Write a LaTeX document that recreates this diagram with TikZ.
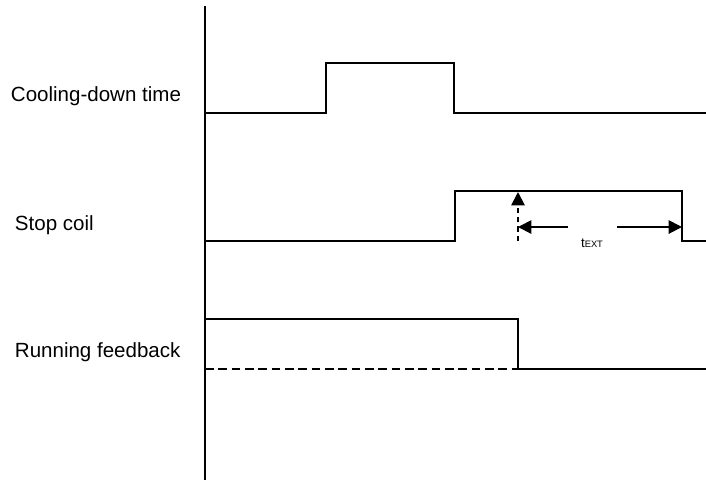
\documentclass[tikz,border=0pt]{standalone}
\usepackage{fontspec}
\setmainfont{Liberation Sans}
\usetikzlibrary{arrows.meta}

\begin{document}
\begin{tikzpicture}[x=0.75pt,y=-0.75pt,line width=1.4pt,
	sig/.style={line join=miter},
	lbl/.style={anchor=base west,inner sep=0pt,font=\fontsize{15.4}{15.4}\selectfont},
	tip/.style={-{Triangle[length=10pt,width=10pt]}}]
	\useasboundingbox (0,0) rectangle (706,480);
	\path
	(205,6) coordinate (Top)
	(205,480) coordinate (Bot)
	% cooling-down time
	(205,113) coordinate (A0) (326,113) coordinate (A1) (326,63) coordinate (A2)
	(454,63) coordinate (A3) (454,113) coordinate (A4) (706,113) coordinate (A5)
	% stop coil
	(205,241) coordinate (B0) (455,241) coordinate (B1) (455,191) coordinate (B2)
	(682,191) coordinate (B3) (682,241) coordinate (B4) (706,241) coordinate (B5)
	% running feedback
	(205,319) coordinate (C0) (518,319) coordinate (C1) (518,369) coordinate (C2)
	(706,369) coordinate (C3) (205,369) coordinate (C4)
	% delay marks
	(518,192) coordinate (D) (518,227) coordinate (E1) (682,227) coordinate (E2)
	(568,227) coordinate (L) (617,227) coordinate (R);
	\draw (Top)--(Bot);
	\draw[sig] (A0)--(A1)--(A2)--(A3)--(A4)--(A5);
	\draw[sig] (B0)--(B1)--(B2)--(B3)--(B4)--(B5);
	\draw[sig] (C0)--(C1)--(C2)--(C3);
	\draw[dash pattern=on 6.5pt off 3.5pt] (C4)--(C2);
	\draw[tip,dash pattern=on 4pt off 3pt] (B1-|D)--(D);
	\node[inner sep=0pt,anchor=base] (tx) at (592,247) {\fontsize{10}{10}\selectfont t\fontsize{7}{7}\selectfont EXT};
	\draw[tip] (L)--(E1);
	\draw[tip] (R)--(E2);
	\node[lbl] (cool) at (10,101) {Cooling-down time};
	\node[lbl] (stop) at (14,230) {Stop coil};
	\node[lbl] (run) at (14,357) {Running feedback};
\end{tikzpicture}
\end{document}
